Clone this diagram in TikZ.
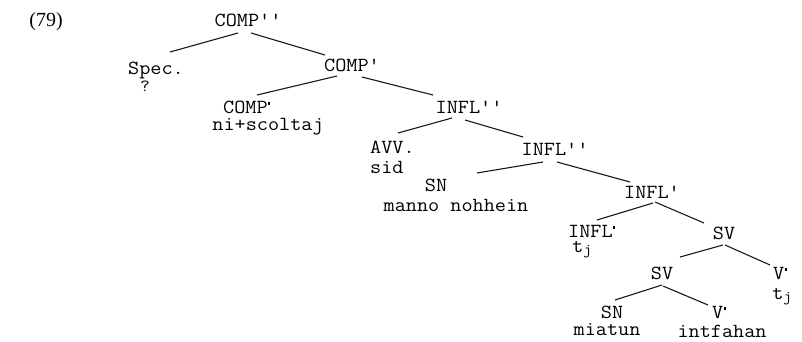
\documentclass[tikz,border=0pt]{standalone}
\usepackage{fontspec}
\setmonofont{Latin Modern Mono}[FakeStretch=1.08]
\newfontfamily\exfont{Liberation Serif}
\newcommand\zdot{\hspace{0.5pt}\rule[8.5pt]{1.8pt}{2.2pt}}
\newcommand\sbj{\raisebox{-2.5pt}{\fontsize{15}{15}\selectfont j}}
\begin{document}
\begin{tikzpicture}[x=1pt,y=-1pt,
  lab/.style={font=\ttfamily\fontsize{20}{20}\selectfont, inner sep=0pt, anchor=base},
  labw/.style={lab, anchor=base west},
  branch/.style={line width=1.1pt, black!90}]
\fill[white] (0,0) rectangle (802,341);
\useasboundingbox (0,0) rectangle (802,341);

\node[font=\exfont\fontsize{20}{20}\selectfont, inner sep=0pt, anchor=base] (ex) at (46,26) {(79)};

\node[lab] (cpp) at (248,26) {COMP''};
\node[labw] (spec) at (128,74) {Spec.};
\node[lab, font=\ttfamily\fontsize{17}{17}\selectfont] (q) at (145,91) {?};
\node[lab] (cp) at (352,71) {COMP'};
\node[labw] (c0) at (223,113) {COMP\zdot};
\node[lab] (w1) at (268,130) {ni+scoltaj};
\node[lab] (i2a) at (469,113) {INFL''};
\node[labw] (avv) at (370,153) {AVV.};
\node[labw] (w2) at (370,173) {sid};
\node[lab] (i2b) at (555,155) {INFL''};
\node[lab] (sn1) at (436,191) {SN};
\node[lab] (w3) at (456,211) {manno nohhein};
\node[lab] (i1) at (652,198) {INFL'};
\node[labw] (i0) at (568,237) {INFL\zdot};
\node[lab] (w4) at (582,252) {t\sbj};
\node[lab] (sv1) at (724,239) {SV};
\node[lab] (sv2) at (662,279) {SV};
\node[labw] (v1) at (773,279) {V\zdot};
\node[lab] (w5) at (782,299) {t\sbj};
\node[lab] (sn2) at (612,318) {SN};
\node[lab] (w6) at (607,335) {miatun};
\node[labw] (v2) at (712,318) {V\zdot};
\node[lab] (w7) at (722,337) {intfahan};

\draw[branch] ([shift={(-10,7)}]cpp.base) -- ([shift={(42,-22)}]spec.base west);
\draw[branch] ([shift={(3,7)}]cpp.base) -- ([shift={(-27,-16)}]cp.base);
\draw[branch] ([shift={(-15,5)}]cp.base) -- ([shift={(34,-18)}]c0.base west);
\draw[branch] ([shift={(10,6)}]cp.base) -- ([shift={(-36,-18)}]i2a.base);
\draw[branch] ([shift={(-17,5)}]i2a.base) -- ([shift={(28,-20)}]avv.base west);
\draw[branch] ([shift={(-4,7)}]i2a.base) -- ([shift={(-32,-18)}]i2b.base);
\draw[branch] ([shift={(-12,7)}]i2b.base) -- ([shift={(41,-18)}]sn1.base);
\draw[branch] ([shift={(2,7)}]i2b.base) -- ([shift={(-22,-16)}]i1.base);
\draw[branch] ([shift={(1,5)}]i1.base) -- ([shift={(29,-17)}]i0.base west);
\draw[branch] ([shift={(3,4)}]i1.base) -- ([shift={(-20,-16)}]sv1.base);
\draw[branch] ([shift={(-1,6)}]sv1.base) -- ([shift={(18,-22)}]sv2.base);
\draw[branch] ([shift={(1,6)}]sv1.base) -- ([shift={(-3,-14)}]v1.base west);
\draw[branch] ([shift={(0,6)}]sv2.base) -- ([shift={(3,-18)}]sn2.base);
\draw[branch] ([shift={(1,7)}]sv2.base) -- ([shift={(-4,-13)}]v2.base west);
\end{tikzpicture}
\end{document}
